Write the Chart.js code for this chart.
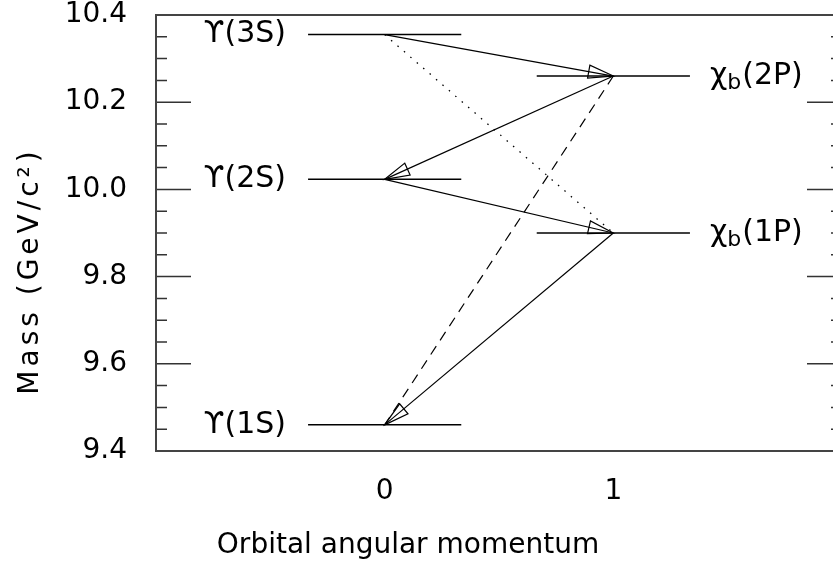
<!DOCTYPE html>
<html>
<head>
<meta charset="utf-8">
<script src="https://cdn.jsdelivr.net/npm/chart.js@4.4.1/dist/chart.umd.min.js"></script>
<style>
  html, body { margin:0; padding:0; background:#fff; overflow:hidden; }
  #wrap { width:850px; height:567px; position:relative; }
</style>
</head>
<body>
<div id="wrap"><canvas id="chart"></canvas></div>
<script>
// energy levels
const levelNames = ['ϒ(1S)', 'ϒ(2S)', 'ϒ(3S)', 'χ_b(1P)', 'χ_b(2P)'];
const levelL     = [0, 0, 0, 1, 1];
const levelMass  = [9.460, 10.023, 10.355, 9.900, 10.260];

// transitions (indexes into the level arrays)
const transFrom  = [2, 4, 1, 3, 4, 2];
const transTo    = [4, 1, 3, 0, 0, 3];
const transStyle = ['solid', 'solid', 'solid', 'solid', 'dashed', 'dotted'];
const transArrow = [true, true, true, true, false, false];

const xTicks = [0, 1];
const xTitle = 'Orbital angular momentum';
const yTitle = 'Mass (GeV/c²)';

const FONT = '"DejaVu Sans"';
const INK = '#000';
const HALF = 0.335; // half length of a level line

const dashes = { solid: [], dashed: [10, 7], dotted: [1.5, 7] };

const datasets = [];
levelMass.forEach((m, i) => {
  datasets.push({
    data: [{x: levelL[i]-HALF, y: m}, {x: levelL[i]+HALF, y: m}],
    showLine: true, borderColor: INK, borderWidth: 1.5, pointRadius: 0
  });
});
transFrom.forEach((f, i) => {
  const t = transTo[i];
  datasets.push({
    data: [{x: levelL[f], y: levelMass[f]}, {x: levelL[t], y: levelMass[t]}],
    showLine: true, borderColor: INK, borderWidth: transStyle[i]==='dotted' ? 1.3 : 1.2,
    borderDash: dashes[transStyle[i]], pointRadius: 0
  });
});

const extras = {
  id: 'extras',
  afterDatasetsDraw(chart){
    const {ctx, chartArea: a, scales: {x, y}} = chart;
    ctx.save();
    // arrowheads
    ctx.strokeStyle = INK; ctx.lineWidth = 1.2; ctx.setLineDash([]);
    transFrom.forEach((f, i) => {
      if (!transArrow[i]) return;
      const t = transTo[i];
      const x0 = x.getPixelForValue(levelL[f]), y0 = y.getPixelForValue(levelMass[f]);
      const x1 = x.getPixelForValue(levelL[t]), y1 = y.getPixelForValue(levelMass[t]);
      const ang = Math.atan2(y1-y0, x1-x0);
      const len = 25, w = 6.5;
      const bx = x1 - len*Math.cos(ang), by = y1 - len*Math.sin(ang);
      ctx.beginPath();
      ctx.moveTo(x1, y1);
      ctx.lineTo(bx + w*Math.sin(ang), by - w*Math.cos(ang));
      ctx.lineTo(bx - w*Math.sin(ang), by + w*Math.cos(ang));
      ctx.closePath();
      ctx.stroke();
    });
    // level labels
    ctx.fillStyle = INK; ctx.textBaseline = 'middle';
    levelNames.forEach((name, i) => {
      const py = y.getPixelForValue(levelMass[i]);
      const [base, rest] = name.includes('_') ? name.split('_') : [name, ''];
      const sub = rest ? rest[0] : '', tail = rest ? rest.slice(1) : '';
      ctx.font = '30px ' + FONT;
      const wb = ctx.measureText(base).width, wt = ctx.measureText(tail).width;
      ctx.font = '22px ' + FONT;
      const ws = ctx.measureText(sub).width + 1;
      const total = wb + ws + wt;
      let px;
      if (levelL[i] === 0) px = x.getPixelForValue(levelL[i]-HALF) - 21 - total;
      else px = x.getPixelForValue(levelL[i]+HALF) + 20;
      ctx.textAlign = 'left';
      ctx.font = '30px ' + FONT;
      ctx.fillText(base, px, py);
      ctx.font = '22px ' + FONT;
      ctx.fillText(sub, px + wb, py + 7);
      ctx.font = '30px ' + FONT;
      ctx.fillText(tail, px + wb + ws, py);
    });
    // y tick marks on both sides, pointing inward
    ctx.strokeStyle = '#333'; ctx.lineWidth = 1.5;
    const steps = Math.round((y.max - y.min) / 0.05);
    for (let k = 0; k <= steps; k++) {
      const py = y.getPixelForValue(y.min + k*0.05);
      const l = (k % 4 === 0) ? 35 : 11;
      ctx.beginPath();
      ctx.moveTo(a.left, py); ctx.lineTo(a.left + l, py);
      ctx.moveTo(a.right, py); ctx.lineTo(a.right - l, py);
      ctx.stroke();
    }
    // frame
    ctx.strokeStyle = '#444'; ctx.lineWidth = 2;
    ctx.strokeRect(a.left, a.top, a.right - a.left, a.bottom - a.top);
    // axis titles
    ctx.fillStyle = INK; ctx.font = '28px ' + FONT;
    ctx.textAlign = 'center'; ctx.textBaseline = 'middle';
    ctx.fillText(xTitle, 408, a.bottom + 95);
    ctx.translate(31, 271);
    ctx.rotate(-Math.PI/2);
    ctx.letterSpacing = '4px';
    ctx.fillText(yTitle, 0, 0);
    ctx.restore();
  }
};

new Chart(document.getElementById('chart'), {
  type: 'scatter',
  data: { datasets },
  options: {
    responsive: true, maintainAspectRatio: false, animation: false,
    layout: { padding: { top: 15, right: 8, left: 0, bottom: 0 } },
    plugins: { legend: { display: false }, tooltip: { enabled: false } },
    scales: {
      x: {
        type: 'linear', min: -1, max: 2,
        afterBuildTicks: s => { s.ticks = xTicks.map(v => ({ value: v })); },
        afterFit: s => { s.height = 116; s.paddingLeft = 0; s.paddingRight = 0; },
        grid: { display: false, drawTicks: false }, border: { display: false },
        ticks: { color: INK, font: { family: FONT, size: 28 }, padding: 24, maxRotation: 0 }
      },
      y: {
        type: 'linear', min: 9.4, max: 10.4,
        afterFit: s => { s.width = 156; s.paddingTop = 0; s.paddingBottom = 0; },
        grid: { display: false, drawTicks: false }, border: { display: false },
        ticks: { stepSize: 0.2, color: INK, font: { family: FONT, size: 28 }, padding: 29,
                 callback: v => v.toFixed(1) }
      }
    }
  },
  plugins: [extras]
});
</script>
</body>
</html>
